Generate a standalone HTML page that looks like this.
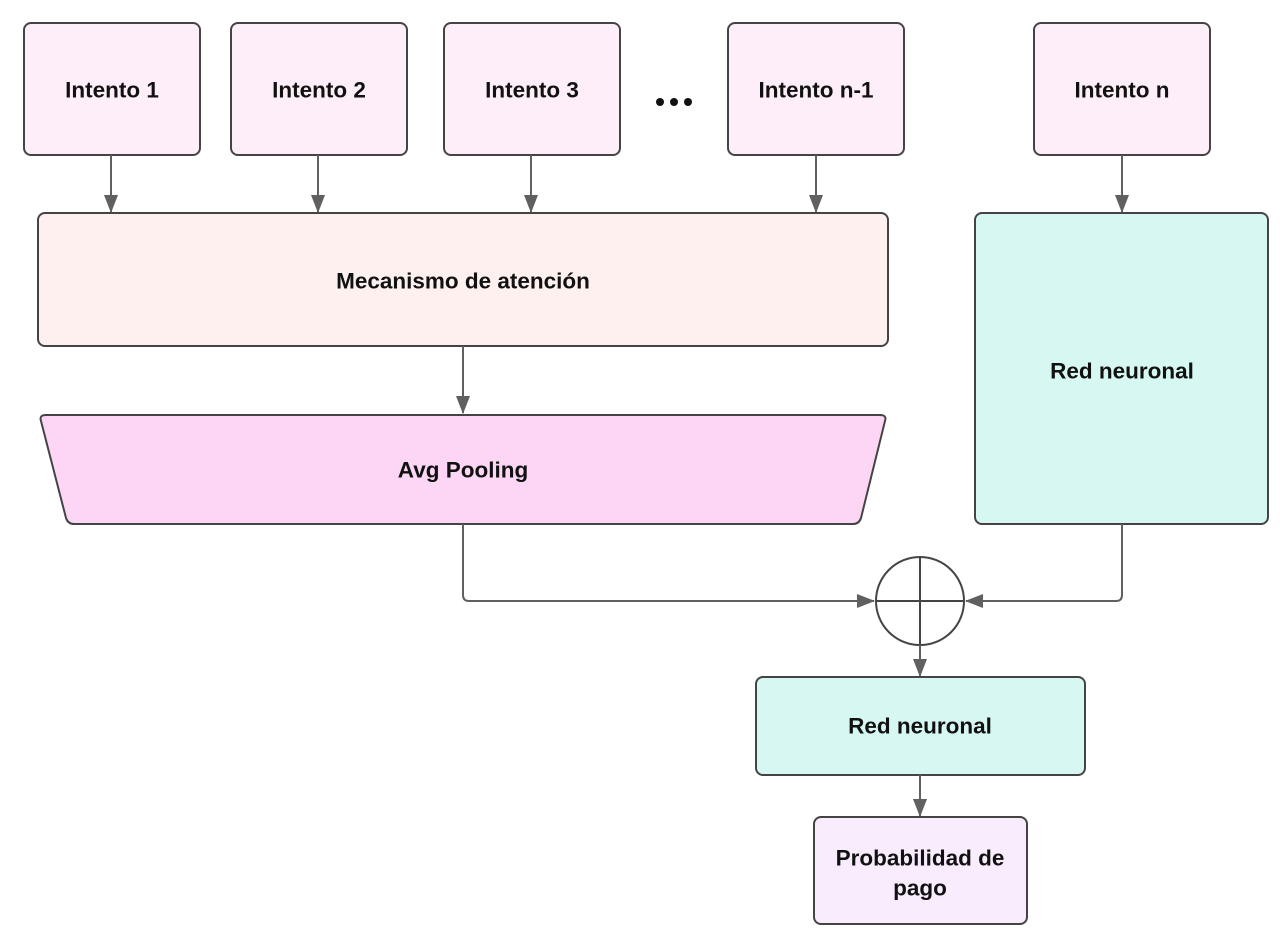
<!DOCTYPE html>
<html><head><meta charset="utf-8"><style>
html,body{margin:0;padding:0;background:#fff;}
svg{display:block;}
text{font-family:"Liberation Sans",sans-serif;font-weight:bold;font-size:22.5px;fill:#111;text-anchor:middle;dominant-baseline:central;}
</style></head><body>
<svg width="1280" height="935" viewBox="0 0 1280 935" xmlns="http://www.w3.org/2000/svg">
<defs>
<marker id="a" markerWidth="18" markerHeight="14" refX="17" refY="7" orient="auto" markerUnits="userSpaceOnUse">
<path d="M0,0 L18,7 L0,14 Z" fill="#606060"/>
</marker>
</defs>
<g stroke="#444" stroke-width="2">
<rect x="24" y="23" width="176" height="132" rx="7" fill="#fdeef9"/>
<rect x="231" y="23" width="176" height="132" rx="7" fill="#fdeef9"/>
<rect x="444" y="23" width="176" height="132" rx="7" fill="#fdeef9"/>
<rect x="728" y="23" width="176" height="132" rx="7" fill="#fdeef9"/>
<rect x="1034" y="23" width="176" height="132" rx="7" fill="#fdeef9"/>
<rect x="38" y="213" width="850" height="133" rx="7" fill="#fdf0ef"/>
<path d="M46,415 L880,415 Q887,415 885,421 L861,518 Q859,524 853,524 L74,524 Q68,524 66,518 L41,421 Q39,415 46,415 Z" fill="#fdd6f5"/>
<rect x="975" y="213" width="293" height="311" rx="7" fill="#d7f8f2"/>
<rect x="756" y="677" width="329" height="98" rx="7" fill="#d7f8f2"/>
<rect x="814" y="817" width="213" height="107" rx="7" fill="#f9ecfd"/>
<circle cx="920" cy="601" r="44" fill="#fff"/>
<line x1="876" y1="601" x2="964" y2="601"/>
<line x1="920" y1="557" x2="920" y2="645"/>
</g>
<g stroke="#606060" stroke-width="2" fill="none" marker-end="url(#a)">
<line x1="111" y1="155" x2="111" y2="212"/>
<line x1="318" y1="155" x2="318" y2="212"/>
<line x1="531" y1="155" x2="531" y2="212"/>
<line x1="816" y1="155" x2="816" y2="212"/>
<line x1="1122" y1="155" x2="1122" y2="212"/>
<line x1="463" y1="346" x2="463" y2="413"/>
<path d="M463,524 L463,595 Q463,601 469,601 L874,601"/>
<path d="M1122,524 L1122,595 Q1122,601 1116,601 L966,601"/>
<line x1="920" y1="645" x2="920" y2="676"/>
<line x1="920" y1="775" x2="920" y2="816"/>
</g>
<g fill="#111"><circle cx="660" cy="102" r="4"/><circle cx="674" cy="102" r="4"/><circle cx="688" cy="102" r="4"/></g>
<text x="112" y="90">Intento 1</text>
<text x="319" y="90">Intento 2</text>
<text x="532" y="90">Intento 3</text>
<text x="816" y="90">Intento n-1</text>
<text x="1122" y="90">Intento n</text>
<text x="463" y="281">Mecanismo de atención</text>
<text x="463" y="470">Avg Pooling</text>
<text x="1122" y="371">Red neuronal</text>
<text x="920" y="726">Red neuronal</text>
<text x="920" y="858">Probabilidad de</text>
<text x="920" y="888">pago</text>
</svg>
</body></html>
